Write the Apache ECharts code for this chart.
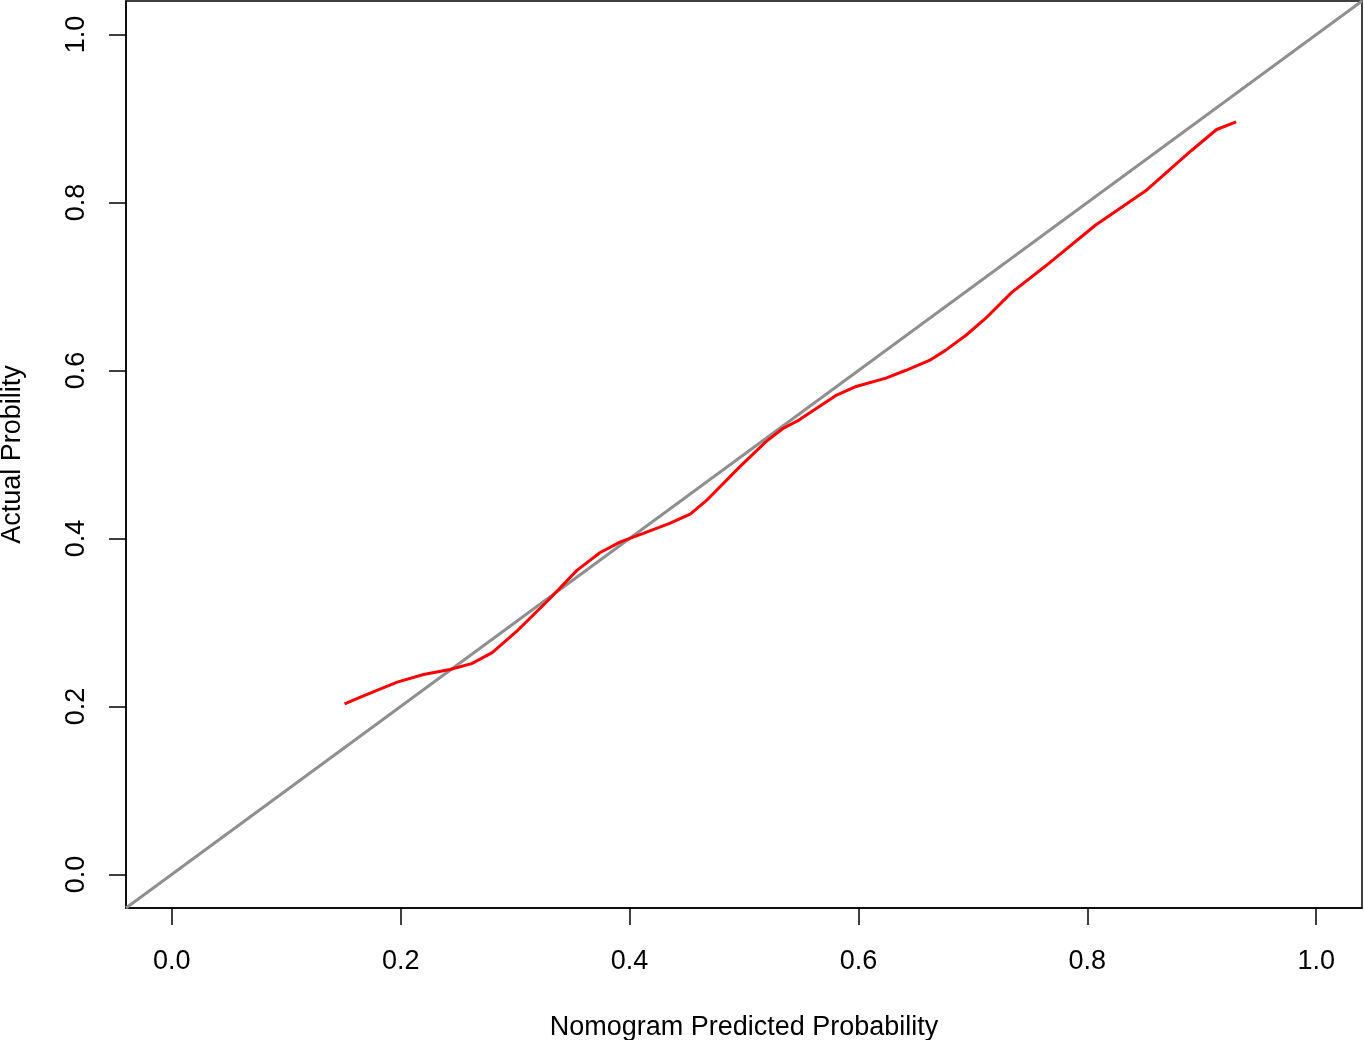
<!DOCTYPE html>
<html>
<head>
<meta charset="UTF-8">
<title>Calibration</title>
<script src="https://cdn.jsdelivr.net/npm/echarts@6/dist/echarts.min.js"></script>
<style>
	html, body { margin: 0; padding: 0; background: #fff; }
	#main { width: 1364px; height: 1040px; }
</style>
</head>
<body>
<div id="main"></div>
<script type="text/javascript">
	// values
	var predicted = [0.151, 0.168, 0.197, 0.220, 0.243, 0.262, 0.280, 0.301, 0.330, 0.354, 0.374, 0.392,
		0.412, 0.435, 0.453, 0.467, 0.496, 0.519, 0.534, 0.548, 0.580, 0.598, 0.624, 0.641,
		0.662, 0.676, 0.694, 0.711, 0.734, 0.764, 0.807, 0.851, 0.891, 0.913, 0.930];
	var actual = [0.203, 0.213, 0.229, 0.238, 0.244, 0.251, 0.264, 0.289, 0.328, 0.362, 0.383, 0.396,
		0.406, 0.418, 0.429, 0.445, 0.485, 0.515, 0.531, 0.541, 0.570, 0.581, 0.591, 0.600,
		0.612, 0.624, 0.642, 0.662, 0.693, 0.725, 0.773, 0.814, 0.862, 0.887, 0.896];
	var diagonal = [-0.04, 1.04];
	var tickValues = [0, 0.2, 0.4, 0.6, 0.8, 1.0];

	var calData = [];
	for (var i = 0; i < predicted.length; i++) {
		calData.push([predicted[i], actual[i]]);
	}
	var refData = [];
	for (var j = 0; j < diagonal.length; j++) {
		refData.push([diagonal[j], diagonal[j]]);
	}

	var font = 'Liberation Sans, Arial, sans-serif';
	var myChart = echarts.init(document.getElementById('main'));
	myChart.setOption({
		animation: false,
		grid: {
			left: 126, right: 2, top: 1, bottom: 132,
			outerBoundsMode: 'none', containLabel: false,
			show: true, borderColor: '#000', borderWidth: 1.5, backgroundColor: '#fff'
		},
		xAxis: {
			type: 'value', min: -0.04, max: 1.04,
			name: 'Nomogram Predicted Probability', nameLocation: 'middle', nameGap: 106,
			nameTextStyle: { fontSize: 27, fontFamily: font, color: '#000' },
			axisLine: { show: true, onZero: false, lineStyle: { color: '#000', width: 1.5 } },
			splitLine: { show: false },
			axisTick: { show: true, length: 17, inside: false, customValues: tickValues,
				lineStyle: { color: '#000', width: 1.5 } },
			axisLabel: { customValues: tickValues, margin: 40, fontSize: 27, fontFamily: font, color: '#000',
				formatter: function (v) { return v.toFixed(1); } }
		},
		yAxis: {
			type: 'value', min: -0.04, max: 1.04,
			name: 'Actual Probility', nameLocation: 'middle', nameGap: 100,
			nameTextStyle: { fontSize: 27, fontFamily: font, color: '#000' },
			axisLine: { show: true, onZero: false, lineStyle: { color: '#000', width: 1.5 } },
			splitLine: { show: false },
			axisTick: { show: true, length: 17, inside: false, customValues: tickValues,
				lineStyle: { color: '#000', width: 1.5 } },
			axisLabel: { customValues: tickValues, rotate: 90, margin: 36, fontSize: 27, fontFamily: font, color: '#000',
				formatter: function (v) { return v.toFixed(1); } }
		},
		series: [
			{
				name: 'ideal', type: 'line', data: refData, showSymbol: false, clip: true,
				lineStyle: { color: '#8f8f8f', width: 3 }
			},
			{
				name: 'nomogram', type: 'line', data: calData, showSymbol: false, clip: true,
				lineStyle: { color: '#ff0000', width: 3 }
			}
		]
	});
</script>
</body>
</html>
